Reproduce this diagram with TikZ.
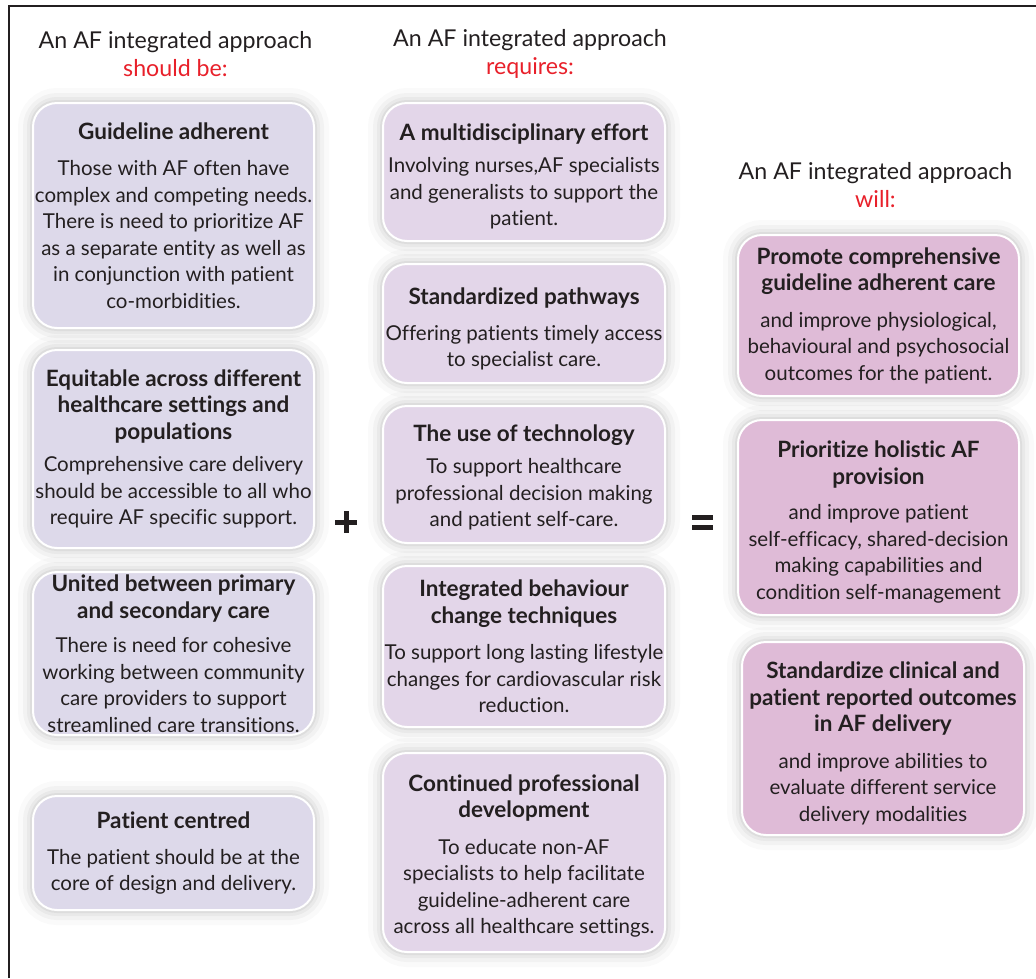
\documentclass[tikz,border=0pt]{standalone}
\usepackage{fontspec}
\setmainfont{Lato}[Ligatures=NoCommon]
\definecolor{cA}{HTML}{DDD9EA}
\definecolor{cB}{HTML}{E3D6E9}
\definecolor{cC}{HTML}{DFBBD7}
\definecolor{ink}{HTML}{231F20}
\definecolor{hired}{HTML}{E8202A}
\newcommand{\ttl}[1]{{\fontsize{22.5}{26}\selectfont\bfseries #1}}
\newcommand{\lift}[1]{\rule{0pt}{#1}}
\begin{document}
\begin{tikzpicture}[x=1pt,y=-1pt,
  glowbox/.style={rounded corners=24pt, draw=white, line width=2pt, align=center, text=ink,
    font=\fontsize{20.5}{26.5}\selectfont, inner sep=0pt,
    preaction={draw=black, draw opacity=0.02, line width=30pt},
    preaction={draw=black, draw opacity=0.03, line width=20pt},
    preaction={draw=black, draw opacity=0.04, line width=12pt},
    preaction={draw=black, draw opacity=0.05, line width=6pt}},
  boxA/.style={glowbox, fill=cA},
  boxB/.style={glowbox, fill=cB},
  boxC/.style={glowbox, fill=cC},
  head/.style={align=center, text=ink, font=\fontsize{23.2}{28}\selectfont, inner sep=0pt},
  sym/.style={ink, line width=5pt}]
\useasboundingbox (0,0) rectangle (1036,978);
\draw[line width=2.5pt, ink] (9,978) -- (9,6) -- (1036,6);

% headers
\node[head] (h1) at (175.5,54) {An AF integrated approach\\ \textcolor{hired}{should be:}};
\node[head] (h2) at (530,54) {An AF integrated approach\\ \textcolor{hired}{requires:}};
\node[head] (h3) at (875.5,185) {An AF integrated approach\\ \textcolor{hired}{will:}};

% column 1
\node[boxA, minimum width=281pt, minimum height=225pt] (a1) at (173.5,215.5)
 {\ttl{Guideline adherent}\\[10pt]Those with AF often have\\complex and competing needs.\\There is need to prioritize AF\\as a separate entity as well as\\in conjunction with patient\\co-morbidities.};
\node[boxA, minimum width=281pt, minimum height=198pt] (a2) at (173.5,449)
 {\ttl{Equitable across different}\\\ttl{healthcare settings and}\\\ttl{populations}\\[6pt]Comprehensive care delivery\\should be accessible to all who\\require AF specific support.};
\node[boxA, minimum width=281pt, minimum height=163pt] (a3) at (173.5,653.5)
 {\ttl{United between primary}\\\ttl{and secondary care}\\[8pt]There is need for cohesive\\working between community\\care providers to support\\streamlined care transitions.};
\node[boxA, minimum width=281pt, minimum height=114pt] (a4) at (173.5,853)
 {\ttl{Patient centred}\\[9pt]The patient should be at the\\core of design and delivery.};

% column 2
\node[boxB, minimum width=282pt, minimum height=138pt] (b1) at (524,172)
 {\lift{26pt}\ttl{A multidisciplinary effort}\\[6pt]Involving nurses,AF specialists\\and generalists to support the\\patient.};
\node[boxB, minimum width=282pt, minimum height=119pt] (b2) at (524,323.5)
 {\lift{28pt}\ttl{Standardized pathways}\\[9pt]Offering patients timely access\\to specialist care.};
\node[boxB, minimum width=282pt, minimum height=137pt] (b3) at (524,474.5)
 {\lift{22pt}\ttl{The use of technology}\\[6pt]To support healthcare\\professional decision making\\and patient self-care.};
\node[boxB, minimum width=282pt, minimum height=161pt] (b4) at (524,646.5)
 {\ttl{Integrated behaviour}\\\ttl{change techniques}\\[10pt]To support long lasting lifestyle\\changes for cardiovascular risk\\reduction.};
\node[boxB, minimum width=282pt, minimum height=199pt] (b5) at (524,852.5)
 {\lift{24pt}\ttl{Continued professional}\\\ttl{development}\\[10pt]To educate non-AF\\specialists to help facilitate\\guideline-adherent care\\across all healthcare settings.};

% column 3
\node[boxC, minimum width=281pt, minimum height=161pt] (c1) at (878.5,315.5)
 {\ttl{Promote comprehensive}\\\ttl{guideline adherent care}\\[10pt]and improve physiological,\\behavioural and psychosocial\\outcomes for the patient.};
\node[boxC, minimum width=281pt, minimum height=195pt] (c2) at (878.5,517.5)
 {\lift{26pt}\ttl{Prioritize holistic AF}\\\ttl{provision}\\[9pt]and improve patient\\self-efficacy, shared-decision\\making capabilities and\\condition self-management};
\node[boxC, minimum width=282pt, minimum height=193pt] (c3) at (883,738.5)
 {\lift{26pt}\ttl{Standardize clinical and}\\\ttl{patient reported outcomes}\\\ttl{in AF delivery}\\[10pt]and improve abilities to\\evaluate different service\\delivery modalities};

% plus and equals
\draw[sym] (335,522) -- (357,522);
\draw[sym] (346,511) -- (346,533);
\draw[sym] (692,517.5) -- (713,517.5);
\draw[sym] (692,527) -- (713,527);
\end{tikzpicture}
\end{document}
